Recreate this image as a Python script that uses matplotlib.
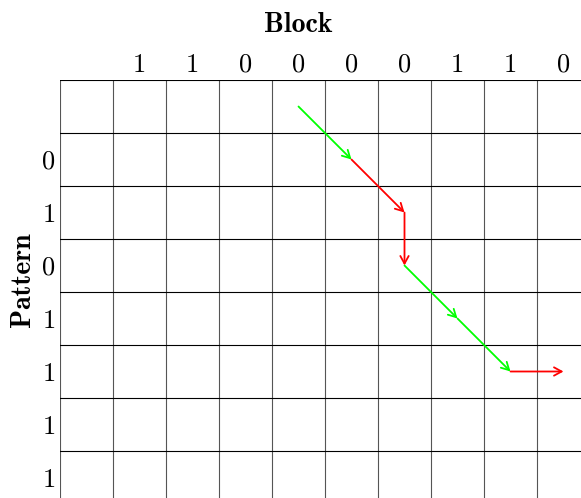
import matplotlib
matplotlib.use("Agg")
import matplotlib.pyplot as plt

# sequences along the top and the left
block = ["1", "1", "0", "0", "0", "0", "1", "1", "0"]
pattern = ["0", "1", "0", "1", "1", "1", "1"]

# path through the grid: (col, row) cell steps and arrow colour
path_from = [(4, 0), (5, 1), (6, 2), (6, 3), (7, 4), (8, 5)]
path_to = [(5, 1), (6, 2), (6, 3), (7, 4), (8, 5), (9, 5)]
path_color = ["#00ff00", "#ff0000", "#ff0000", "#00ff00", "#00ff00", "#ff0000"]

n_cols = len(block) + 1
n_rows = len(pattern) + 1

W, H = 581, 498
cell = 53.0
left, top = 60.0, 80.0

fig = plt.figure(figsize=(W / 100, H / 100), dpi=100)
ax = fig.add_axes([left / W, 0, (W - left) / W, (H - top) / H])
ax.set_xlim(0, (W - left) / cell)
ax.set_ylim((H - top) / cell, 0)
ax.axis("off")

# grid
for c in range(n_cols + 1):
    ax.plot([c, c], [0, n_rows], color="#555555", lw=0.8)
for r in range(n_rows + 1):
    ax.plot([0, n_cols], [r, r], color="black", lw=0.8)

# labels
for i, ch in enumerate(block):
    ax.text(i + 1.5, -0.151, ch, ha="center", va="baseline",
            fontsize=19, family="cmr10", clip_on=False)
for i, ch in enumerate(pattern):
    ax.text(-0.2075, i + 1.5 + 0.17, ch, ha="center", va="baseline",
            fontsize=19, family="cmr10", clip_on=False)

ax.text(4.49, -0.906, "Block", ha="center", va="baseline",
        fontsize=20, family="cmb10", clip_on=False)
ax.text(-0.566, 3.774, "Pattern", ha="center", va="baseline", rotation=90,
        rotation_mode="anchor", fontsize=20, family="cmb10", clip_on=False)

# arrows
for (c0, r0), (c1, r1), col in zip(path_from, path_to, path_color):
    ax.annotate("", xy=(c1 + 0.5, r1 + 0.5), xytext=(c0 + 0.5, r0 + 0.5),
                arrowprops=dict(arrowstyle="->,head_length=0.55,head_width=0.3",
                                color=col, lw=1.3, shrinkA=0, shrinkB=0))

fig.savefig("out.png", dpi=100)
